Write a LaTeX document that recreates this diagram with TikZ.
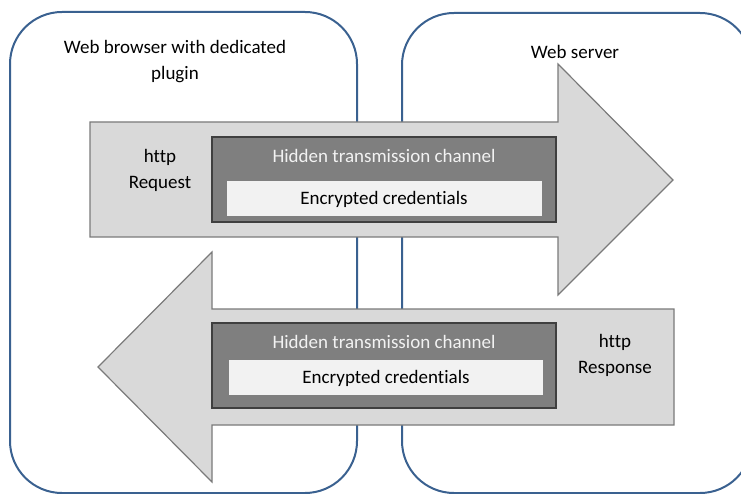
\documentclass[tikz,border=0pt]{standalone}
\usepackage{fontspec}
\setmainfont{Carlito}[Ligatures=NoCommon]
\definecolor{zoneblue}{HTML}{3A6190}
\definecolor{arrowfill}{HTML}{D9D9D9}
\definecolor{arrowline}{HTML}{7A7A7A}
\definecolor{chanfill}{HTML}{7F7F7F}
\definecolor{chanline}{HTML}{3F3F3F}
\definecolor{credfill}{HTML}{F2F2F2}
\tikzset{
  zone/.style={draw=zoneblue, line width=2pt, rounded corners=52pt},
  bigarrow/.style={draw=arrowline, fill=arrowfill, line width=1.2pt},
  chan/.style={draw=chanline, fill=chanfill, line width=1.5pt},
  cred/.style={fill=credfill},
  lbl/.style={font=\fontsize{19}{26}\selectfont, text=black, inner sep=0pt, align=center},
  chanlbl/.style={font=\fontsize{19}{26}\selectfont, text=credfill, inner sep=0pt}
}
\begin{document}
\begin{tikzpicture}[x=1pt,y=-1pt]
\useasboundingbox (0,0) rectangle (741,494);

% client and server zones
\draw[zone] (10,12) rectangle (357,493);
\draw[zone] (402,13) rectangle (752,493);

% request arrow (left to right)
\draw[bigarrow] (90,122) -- (558,122) -- (558,64) -- (673,180) -- (558,295)
  -- (558,237) -- (90,237) -- cycle;
% response arrow (right to left)
\draw[bigarrow] (674,309) -- (212,309) -- (212,252) -- (98,367) -- (212,482)
  -- (212,425) -- (674,425) -- cycle;

% hidden channels with their encrypted payload
\draw[chan] (212,137) rectangle (556,222);
\fill[cred] (227,181) rectangle (542,216);
\draw[chan] (212,323) rectangle (556,408);
\fill[cred] (229,360) rectangle (543,395);

% labels
\node[lbl] (browser) at (175,62) {Web browser with dedicated\\plugin};
\node[lbl] (server) at (575,52) {Web server};
\node[lbl] (req) at (160,170) {http\\Request};
\node[lbl] (resp) at (615,355) {http\\Response};
\node[chanlbl] (ch1) at (384,156) {Hidden transmission channel};
\node[lbl] (cr1) at (384,199) {Encrypted credentials};
\node[chanlbl] (ch2) at (384,342) {Hidden transmission channel};
\node[lbl] (cr2) at (386,378) {Encrypted credentials};
\end{tikzpicture}
\end{document}
